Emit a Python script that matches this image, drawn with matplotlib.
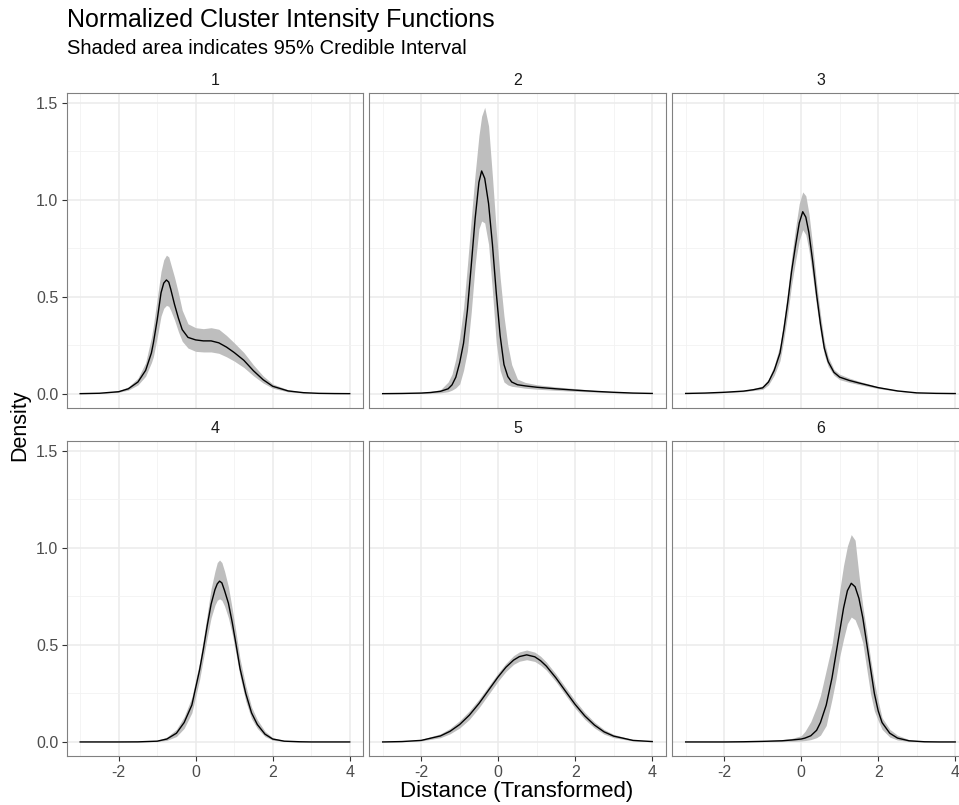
import matplotlib.pyplot as plt
from matplotlib.ticker import MultipleLocator

plt.rcParams['font.family'] = ['Liberation Sans', 'DejaVu Sans']
plt.rcParams['axes.unicode_minus'] = False

# values, one set per cluster
x1 = [-3.0, -2.5, -2.0, -1.75, -1.5, -1.3, -1.15, -1.1, -1.0, -0.9, -0.83, -0.76, -0.7, -0.65, -0.55,
      -0.45, -0.35, -0.2, 0.0, 0.2, 0.4, 0.6, 0.8, 1.0, 1.25, 1.5, 1.75, 2.0, 2.4, 2.8, 3.2, 3.6, 4.0]
mean1 = [0.0, 0.002, 0.010, 0.025, 0.060, 0.120, 0.210, 0.260, 0.380, 0.520, 0.570, 0.586, 0.575, 0.540, 0.460,
         0.390, 0.330, 0.290, 0.277, 0.272, 0.272, 0.262, 0.240, 0.212, 0.172, 0.118, 0.072, 0.038, 0.014, 0.005,
         0.0015, 0.0005, 0.0]
lo1 = [0.0, 0.001, 0.007, 0.018, 0.045, 0.090, 0.160, 0.190, 0.290, 0.400, 0.440, 0.455, 0.450, 0.430, 0.380,
       0.320, 0.270, 0.235, 0.218, 0.215, 0.215, 0.208, 0.190, 0.168, 0.135, 0.092, 0.055, 0.028, 0.009, 0.003,
       0.001, 0.0, 0.0]
hi1 = [0.0, 0.003, 0.015, 0.035, 0.080, 0.160, 0.290, 0.350, 0.490, 0.630, 0.690, 0.714, 0.705, 0.670, 0.600,
       0.520, 0.430, 0.360, 0.340, 0.335, 0.340, 0.332, 0.300, 0.262, 0.212, 0.148, 0.092, 0.050, 0.020, 0.007,
       0.002, 0.001, 0.0]

x2 = [-3.0, -2.5, -2.0, -1.75, -1.5, -1.3, -1.2, -1.1, -1.0, -0.9, -0.8, -0.7, -0.6, -0.5, -0.43, -0.35,
      -0.25, -0.15, -0.05, 0.05, 0.15, 0.25, 0.35, 0.5, 0.7, 1.0, 1.5, 2.0, 2.5, 3.0, 3.5, 4.0]
mean2 = [0.0, 0.001, 0.003, 0.006, 0.012, 0.025, 0.045, 0.085, 0.16, 0.26, 0.43, 0.66, 0.90, 1.09, 1.148, 1.11,
         0.98, 0.77, 0.52, 0.30, 0.15, 0.088, 0.060, 0.046, 0.040, 0.033, 0.025, 0.018, 0.012, 0.007, 0.003, 0.001]
lo2 = [0.0, 0.0, 0.001, 0.002, 0.004, 0.010, 0.018, 0.030, 0.05, 0.12, 0.22, 0.42, 0.66, 0.85, 0.89, 0.88,
       0.77, 0.53, 0.26, 0.12, 0.06, 0.045, 0.038, 0.034, 0.028, 0.023, 0.017, 0.012, 0.008, 0.004, 0.002, 0.001]
hi2 = [0.0, 0.002, 0.006, 0.012, 0.020, 0.06, 0.10, 0.18, 0.29, 0.44, 0.66, 0.90, 1.13, 1.33, 1.43, 1.476,
       1.38, 1.12, 0.84, 0.60, 0.40, 0.25, 0.15, 0.075, 0.058, 0.046, 0.035, 0.026, 0.017, 0.010, 0.005, 0.002]

x3 = [-3.0, -2.5, -2.0, -1.5, -1.25, -1.0, -0.85, -0.7, -0.55, -0.45, -0.35, -0.25, -0.15, -0.05, 0.04,
      0.12, 0.2, 0.3, 0.4, 0.5, 0.6, 0.7, 0.85, 1.0, 1.25, 1.5, 2.0, 2.5, 3.0, 3.5, 4.0]
mean3 = [0.001, 0.003, 0.007, 0.013, 0.020, 0.030, 0.060, 0.12, 0.21, 0.33, 0.47, 0.63, 0.76, 0.88, 0.938,
         0.91, 0.83, 0.68, 0.51, 0.36, 0.235, 0.165, 0.11, 0.085, 0.068, 0.055, 0.031, 0.014, 0.004, 0.0015, 0.0005]
lo3 = [0.0, 0.002, 0.005, 0.010, 0.016, 0.022, 0.045, 0.095, 0.17, 0.28, 0.41, 0.56, 0.68, 0.79, 0.845,
       0.82, 0.74, 0.60, 0.45, 0.31, 0.20, 0.14, 0.095, 0.072, 0.058, 0.047, 0.026, 0.012, 0.003, 0.001, 0.0]
hi3 = [0.001, 0.004, 0.009, 0.017, 0.026, 0.040, 0.075, 0.145, 0.25, 0.38, 0.53, 0.70, 0.85, 0.98, 1.04,
       1.02, 0.93, 0.76, 0.57, 0.41, 0.27, 0.19, 0.125, 0.10, 0.080, 0.064, 0.036, 0.017, 0.005, 0.002, 0.001]

x4 = [-3.0, -2.0, -1.5, -1.0, -0.75, -0.5, -0.3, -0.1, 0.1, 0.2, 0.3, 0.4, 0.5, 0.56, 0.62,
      0.68, 0.75, 0.85, 0.95, 1.05, 1.15, 1.3, 1.45, 1.6, 1.8, 2.0, 2.3, 2.7, 3.0, 4.0]
mean4 = [0.0, 0.0, 0.0005, 0.004, 0.015, 0.045, 0.10, 0.19, 0.37, 0.48, 0.60, 0.71, 0.785, 0.815, 0.829,
         0.82, 0.78, 0.715, 0.615, 0.50, 0.38, 0.25, 0.15, 0.09, 0.04, 0.015, 0.004, 0.001, 0.0, 0.0]
lo4 = [0.0, 0.0, 0.0, 0.002, 0.008, 0.028, 0.07, 0.15, 0.32, 0.43, 0.54, 0.64, 0.705, 0.73, 0.738,
       0.73, 0.70, 0.64, 0.555, 0.45, 0.34, 0.21, 0.12, 0.07, 0.028, 0.009, 0.002, 0.0, 0.0, 0.0]
hi4 = [0.0, 0.001, 0.002, 0.008, 0.025, 0.065, 0.13, 0.23, 0.41, 0.53, 0.66, 0.79, 0.88, 0.925, 0.938,
       0.925, 0.88, 0.80, 0.685, 0.56, 0.43, 0.29, 0.18, 0.115, 0.055, 0.022, 0.007, 0.002, 0.0, 0.0]

x5 = [-3.0, -2.5, -2.0, -1.5, -1.25, -1.0, -0.75, -0.5, -0.25, 0.0, 0.2, 0.4, 0.55, 0.74, 0.95,
      1.1, 1.25, 1.5, 1.75, 2.0, 2.25, 2.5, 2.75, 3.0, 3.5, 4.0]
mean5 = [0.0, 0.002, 0.008, 0.031, 0.055, 0.090, 0.138, 0.198, 0.267, 0.336, 0.385, 0.422, 0.440, 0.449, 0.439,
         0.419, 0.391, 0.330, 0.261, 0.193, 0.134, 0.087, 0.052, 0.030, 0.008, 0.002]
lo5 = [0.0, 0.001, 0.005, 0.022, 0.042, 0.072, 0.116, 0.176, 0.245, 0.314, 0.363, 0.400, 0.416, 0.424, 0.415,
       0.396, 0.370, 0.310, 0.241, 0.173, 0.116, 0.072, 0.040, 0.022, 0.005, 0.001]
hi5 = [0.001, 0.004, 0.013, 0.042, 0.070, 0.110, 0.160, 0.220, 0.288, 0.356, 0.405, 0.445, 0.464, 0.474, 0.463,
       0.442, 0.412, 0.350, 0.281, 0.213, 0.152, 0.102, 0.064, 0.039, 0.012, 0.003]

x6 = [-3.0, -2.0, -1.5, -1.0, -0.5, -0.25, 0.0, 0.1, 0.25, 0.4, 0.5, 0.65, 0.8, 0.9, 1.0, 1.1, 1.2, 1.3,
      1.4, 1.5, 1.6, 1.7, 1.8, 1.9, 2.0, 2.1, 2.3, 2.5, 2.8, 3.2, 3.6, 4.0]
mean6 = [0.0, 0.0, 0.001, 0.003, 0.006, 0.010, 0.015, 0.020, 0.032, 0.060, 0.100, 0.19, 0.33, 0.45, 0.57, 0.69,
         0.78, 0.818, 0.80, 0.74, 0.64, 0.51, 0.38, 0.25, 0.16, 0.10, 0.045, 0.020, 0.006, 0.001, 0.0, 0.0]
lo6 = [0.0, 0.0, 0.0, 0.001, 0.002, 0.003, 0.005, 0.007, 0.012, 0.022, 0.035, 0.085, 0.22, 0.32, 0.44, 0.53,
       0.61, 0.644, 0.63, 0.58, 0.51, 0.38, 0.25, 0.16, 0.11, 0.065, 0.025, 0.010, 0.002, 0.0, 0.0, 0.0]
hi6 = [0.001, 0.002, 0.003, 0.006, 0.012, 0.018, 0.032, 0.055, 0.105, 0.18, 0.24, 0.37, 0.50, 0.64, 0.78, 0.91,
       1.01, 1.069, 1.04, 0.86, 0.70, 0.57, 0.43, 0.31, 0.21, 0.125, 0.065, 0.035, 0.012, 0.003, 0.001, 0.0]

panels = [(x1, mean1, lo1, hi1), (x2, mean2, lo2, hi2), (x3, mean3, lo3, hi3),
          (x4, mean4, lo4, hi4), (x5, mean5, lo5, hi5), (x6, mean6, lo6, hi6)]
strip_labels = ['1', '2', '3', '4', '5', '6']

W, H = 959, 805
fig = plt.figure(figsize=(W / 100, H / 100), dpi=100)

# panel boxes in pixels
col_left = [66.7, 369.2, 672.2]
panel_w = 296.5
row_top = [93.0, 441.3]
panel_h = 315.0

for i, (x, m, lo, hi) in enumerate(panels):
    r, c = divmod(i, 3)
    ax = fig.add_axes([col_left[c] / W, 1 - (row_top[r] + panel_h) / H, panel_w / W, panel_h / H])
    ax.fill_between(x, lo, hi, color='#BEBEBE', lw=0)
    ax.plot(x, m, color='black', lw=1.0, solid_joinstyle='round')
    ax.set_xlim(-3.35, 4.35)
    ax.set_ylim(-0.074, 1.55)
    ax.xaxis.set_major_locator(MultipleLocator(2))
    ax.xaxis.set_minor_locator(MultipleLocator(1))
    ax.yaxis.set_major_locator(MultipleLocator(0.5))
    ax.yaxis.set_minor_locator(MultipleLocator(0.25))
    ax.grid(which='major', color='#EBEBEB', lw=1.1)
    ax.grid(which='minor', color='#F2F2F2', lw=0.6)
    ax.set_axisbelow(True)
    for s in ax.spines.values():
        s.set_color('#808080')
        s.set_linewidth(0.8)
    ax.tick_params(which='minor', length=0)
    ax.tick_params(which='major', length=3.5, width=0.8, color='#333333',
                   labelcolor='#4D4D4D', labelsize=11.5, pad=2.5)
    if r == 0:
        ax.tick_params(axis='x', which='both', bottom=False, labelbottom=False)
    if c > 0:
        ax.tick_params(axis='y', which='both', left=False, labelleft=False)
    ax.text(0.5, 1 + 12.5 / panel_h, strip_labels[i], transform=ax.transAxes,
            ha='center', va='center', fontsize=11.5, color='#1A1A1A')

fig.text(66.7 / W, 1 - 27.5 / H, 'Normalized Cluster Intensity Functions',
         fontsize=18, va='baseline', ha='left')
fig.text(66.7 / W, 1 - 54.5 / H, 'Shaded area indicates 95% Credible Interval',
         fontsize=14.5, va='baseline', ha='left')
fig.text(517 / W, 1 - 797 / H, 'Distance (Transformed)', fontsize=16, ha='center', va='baseline')
fig.text(20 / W, 1 - 425 / H, 'Density', fontsize=15.5, ha='center', va='center', rotation=90)

fig.savefig('out.png', dpi=100)
